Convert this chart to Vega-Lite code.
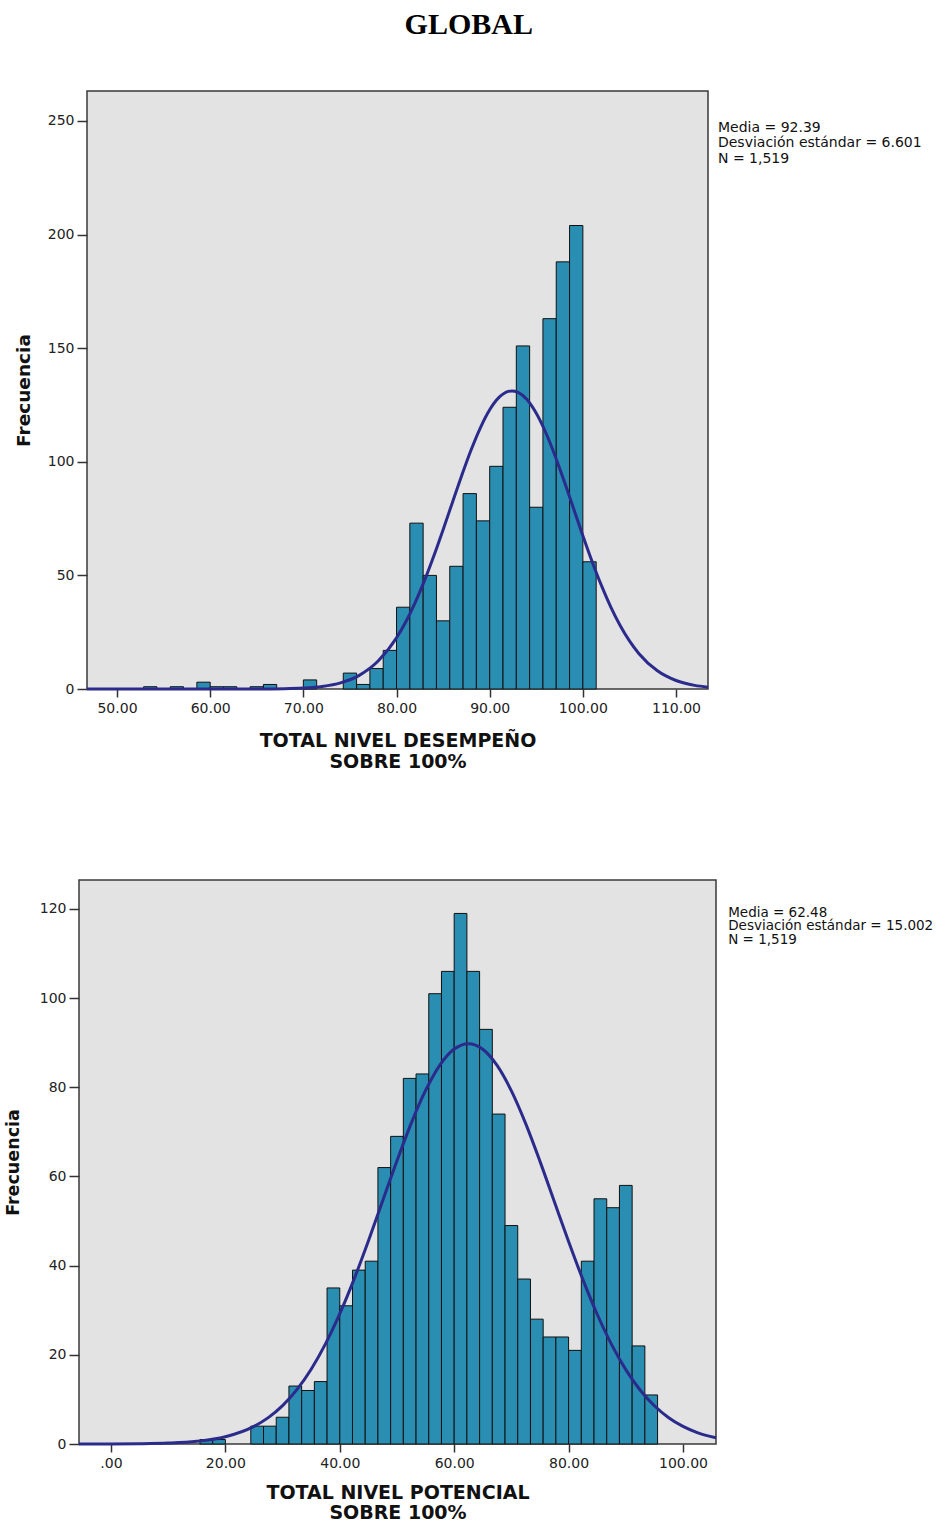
{
  "$schema": "https://vega.github.io/schema/vega-lite/v6.json",
  "background": "white",
  "padding": {"left": 3, "top": 10, "right": 0, "bottom": 0},
  "title": {
    "text": "GLOBAL",
    "font": "Liberation Serif",
    "fontSize": 30,
    "fontWeight": "bold",
    "color": "#000000",
    "anchor": "middle",
    "frame": "bounds",
    "offset": 50
  },
  "bounds": "flush",
  "center": true,
  "spacing": 191,
  "config": {
    "view": {"fill": "#e3e3e3", "stroke": "#3a3a3a", "strokeWidth": 1.5},
    "axis": {
      "grid": false,
      "domain": false,
      "ticks": true,
      "tickColor": "#333333",
      "tickWidth": 1.5,
      "labelFont": "DejaVu Sans",
      "labelFontSize": 14,
      "labelColor": "#222222",
      "titleFont": "DejaVu Sans",
      "titleFontWeight": "bold",
      "titleColor": "#111111"
    }
  },
  "datasets": {
    "desempeno": [
      {"desde": 52.857, "hasta": 54.286, "frecuencia": 1},
      {"desde": 55.714, "hasta": 57.143, "frecuencia": 1},
      {"desde": 58.571, "hasta": 60.0, "frecuencia": 3},
      {"desde": 60.0, "hasta": 61.429, "frecuencia": 1},
      {"desde": 61.429, "hasta": 62.857, "frecuencia": 1},
      {"desde": 64.286, "hasta": 65.714, "frecuencia": 1},
      {"desde": 65.714, "hasta": 67.143, "frecuencia": 2},
      {"desde": 70.0, "hasta": 71.429, "frecuencia": 4},
      {"desde": 74.286, "hasta": 75.714, "frecuencia": 7},
      {"desde": 75.714, "hasta": 77.143, "frecuencia": 2},
      {"desde": 77.143, "hasta": 78.571, "frecuencia": 9},
      {"desde": 78.571, "hasta": 80.0, "frecuencia": 17},
      {"desde": 80.0, "hasta": 81.429, "frecuencia": 36},
      {"desde": 81.429, "hasta": 82.857, "frecuencia": 73},
      {"desde": 82.857, "hasta": 84.286, "frecuencia": 50},
      {"desde": 84.286, "hasta": 85.714, "frecuencia": 30},
      {"desde": 85.714, "hasta": 87.143, "frecuencia": 54},
      {"desde": 87.143, "hasta": 88.571, "frecuencia": 86},
      {"desde": 88.571, "hasta": 90.0, "frecuencia": 74},
      {"desde": 90.0, "hasta": 91.429, "frecuencia": 98},
      {"desde": 91.429, "hasta": 92.857, "frecuencia": 124},
      {"desde": 92.857, "hasta": 94.286, "frecuencia": 151},
      {"desde": 94.286, "hasta": 95.714, "frecuencia": 80},
      {"desde": 95.714, "hasta": 97.143, "frecuencia": 163},
      {"desde": 97.143, "hasta": 98.571, "frecuencia": 188},
      {"desde": 98.571, "hasta": 100.0, "frecuencia": 204},
      {"desde": 100.0, "hasta": 101.429, "frecuencia": 56}
    ],
    "curva_desempeno": [
      {"valor": 46.78, "frecuencia": 0},
      {"valor": 55, "frecuencia": 0},
      {"valor": 60, "frecuencia": 0.001},
      {"valor": 65, "frecuencia": 0.024},
      {"valor": 68, "frecuencia": 0.143},
      {"valor": 70, "frecuencia": 0.42},
      {"valor": 72, "frecuencia": 1.11},
      {"valor": 74, "frecuencia": 2.71},
      {"valor": 76, "frecuencia": 6.01},
      {"valor": 78, "frecuencia": 12.19},
      {"valor": 80, "frecuencia": 22.53},
      {"valor": 81, "frecuencia": 29.61},
      {"valor": 82, "frecuencia": 38.01},
      {"valor": 83, "frecuencia": 47.7},
      {"valor": 84, "frecuencia": 58.5},
      {"valor": 85, "frecuencia": 70.11},
      {"valor": 86, "frecuencia": 82.13},
      {"valor": 87, "frecuencia": 94.01},
      {"valor": 88, "frecuencia": 105.2},
      {"valor": 89, "frecuencia": 114.98},
      {"valor": 90, "frecuencia": 122.9},
      {"valor": 91, "frecuencia": 128.33},
      {"valor": 92, "frecuencia": 131.0},
      {"valor": 92.39, "frecuencia": 131.2},
      {"valor": 93, "frecuencia": 130.64},
      {"valor": 94, "frecuencia": 127.4},
      {"valor": 95, "frecuencia": 121.34},
      {"valor": 96, "frecuencia": 113.0},
      {"valor": 97, "frecuencia": 102.81},
      {"valor": 98, "frecuencia": 91.42},
      {"valor": 99, "frecuencia": 79.47},
      {"valor": 100, "frecuencia": 67.5},
      {"valor": 101, "frecuencia": 56.04},
      {"valor": 102, "frecuencia": 45.47},
      {"valor": 103, "frecuencia": 36.05},
      {"valor": 104, "frecuencia": 27.95},
      {"valor": 105, "frecuencia": 21.16},
      {"valor": 106, "frecuencia": 15.66},
      {"valor": 108, "frecuencia": 8.01},
      {"valor": 110, "frecuencia": 3.74},
      {"valor": 112, "frecuencia": 1.59},
      {"valor": 113.43, "frecuencia": 0.82}
    ],
    "potencial": [
      {"desde": 15.556, "hasta": 17.778, "frecuencia": 1},
      {"desde": 17.778, "hasta": 20.0, "frecuencia": 1},
      {"desde": 24.444, "hasta": 26.667, "frecuencia": 4},
      {"desde": 26.667, "hasta": 28.889, "frecuencia": 4},
      {"desde": 28.889, "hasta": 31.111, "frecuencia": 6},
      {"desde": 31.111, "hasta": 33.333, "frecuencia": 13},
      {"desde": 33.333, "hasta": 35.556, "frecuencia": 12},
      {"desde": 35.556, "hasta": 37.778, "frecuencia": 14},
      {"desde": 37.778, "hasta": 40.0, "frecuencia": 35},
      {"desde": 40.0, "hasta": 42.222, "frecuencia": 31},
      {"desde": 42.222, "hasta": 44.444, "frecuencia": 39},
      {"desde": 44.444, "hasta": 46.667, "frecuencia": 41},
      {"desde": 46.667, "hasta": 48.889, "frecuencia": 62},
      {"desde": 48.889, "hasta": 51.111, "frecuencia": 69},
      {"desde": 51.111, "hasta": 53.333, "frecuencia": 82},
      {"desde": 53.333, "hasta": 55.556, "frecuencia": 83},
      {"desde": 55.556, "hasta": 57.778, "frecuencia": 101},
      {"desde": 57.778, "hasta": 60.0, "frecuencia": 106},
      {"desde": 60.0, "hasta": 62.222, "frecuencia": 119},
      {"desde": 62.222, "hasta": 64.444, "frecuencia": 106},
      {"desde": 64.444, "hasta": 66.667, "frecuencia": 93},
      {"desde": 66.667, "hasta": 68.889, "frecuencia": 74},
      {"desde": 68.889, "hasta": 71.111, "frecuencia": 49},
      {"desde": 71.111, "hasta": 73.333, "frecuencia": 37},
      {"desde": 73.333, "hasta": 75.556, "frecuencia": 28},
      {"desde": 75.556, "hasta": 77.778, "frecuencia": 24},
      {"desde": 77.778, "hasta": 80.0, "frecuencia": 24},
      {"desde": 80.0, "hasta": 82.222, "frecuencia": 21},
      {"desde": 82.222, "hasta": 84.444, "frecuencia": 41},
      {"desde": 84.444, "hasta": 86.667, "frecuencia": 55},
      {"desde": 86.667, "hasta": 88.889, "frecuencia": 53},
      {"desde": 88.889, "hasta": 91.111, "frecuencia": 58},
      {"desde": 91.111, "hasta": 93.333, "frecuencia": 22},
      {"desde": 93.333, "hasta": 95.556, "frecuencia": 11}
    ],
    "curva_potencial": [
      {"valor": -5.59, "frecuencia": 0.003},
      {"valor": 0, "frecuencia": 0.015},
      {"valor": 5, "frecuencia": 0.058},
      {"valor": 10, "frecuencia": 0.198},
      {"valor": 15, "frecuencia": 0.6},
      {"valor": 20, "frecuencia": 1.63},
      {"valor": 25, "frecuencia": 3.96},
      {"valor": 27.5, "frecuencia": 5.92},
      {"valor": 30, "frecuencia": 8.62},
      {"valor": 32.5, "frecuencia": 12.19},
      {"valor": 35, "frecuencia": 16.77},
      {"valor": 37.5, "frecuencia": 22.45},
      {"valor": 40, "frecuencia": 29.22},
      {"valor": 42.5, "frecuencia": 36.99},
      {"valor": 45, "frecuencia": 45.55},
      {"valor": 47.5, "frecuencia": 54.55},
      {"valor": 50, "frecuencia": 63.53},
      {"valor": 52.5, "frecuencia": 71.98},
      {"valor": 55, "frecuencia": 79.3},
      {"valor": 57.5, "frecuencia": 84.99},
      {"valor": 60, "frecuencia": 88.58},
      {"valor": 62.48, "frecuencia": 89.8},
      {"valor": 65, "frecuencia": 88.54},
      {"valor": 67.5, "frecuencia": 84.91},
      {"valor": 70, "frecuencia": 79.19},
      {"valor": 72.5, "frecuencia": 71.85},
      {"valor": 75, "frecuencia": 63.39},
      {"valor": 77.5, "frecuencia": 54.4},
      {"valor": 80, "frecuencia": 45.41},
      {"valor": 82.5, "frecuencia": 36.86},
      {"valor": 85, "frecuencia": 29.1},
      {"valor": 87.5, "frecuencia": 22.35},
      {"valor": 90, "frecuencia": 16.69},
      {"valor": 92.5, "frecuencia": 12.12},
      {"valor": 95, "frecuencia": 8.57},
      {"valor": 97.5, "frecuencia": 5.89},
      {"valor": 100, "frecuencia": 3.94},
      {"valor": 102.5, "frecuencia": 2.56},
      {"valor": 105.77, "frecuencia": 1.39}
    ],
    "resumen_desempeno": [
      {"texto": "Media = 92.39\nDesviación estándar = 6.601\nN = 1,519"}
    ],
    "resumen_potencial": [
      {"texto": "Media = 62.48\nDesviación estándar = 15.002\nN = 1,519"}
    ]
  },
  "vconcat": [
    {
      "width": 621,
      "height": 598,
      "layer": [
        {
          "data": {"name": "desempeno"},
          "mark": {"type": "bar", "fill": "#2a8db2", "stroke": "#111111", "strokeWidth": 1},
          "encoding": {
            "x": {
              "field": "desde",
              "type": "quantitative",
              "scale": {"domain": [46.78, 113.43], "nice": false, "zero": false},
              "axis": {
                "values": [50, 60, 70, 80, 90, 100, 110],
                "format": ".2f",
                "tickSize": 8,
                "labelPadding": 4,
                "title": ["TOTAL NIVEL DESEMPEÑO", "SOBRE 100%"],
                "titleFontSize": 19,
                "titleLineHeight": 21,
                "titlePadding": 16
              }
            },
            "x2": {"field": "hasta"},
            "y": {
              "field": "frecuencia",
              "type": "quantitative",
              "scale": {"domain": [0, 263.2], "nice": false},
              "axis": {
                "values": [0, 50, 100, 150, 200, 250],
                "format": "d",
                "tickSize": 10,
                "labelPadding": 3,
                "title": "Frecuencia",
                "titleFontSize": 18.5,
                "titlePadding": 14
              }
            },
            "y2": {"datum": 0}
          }
        },
        {
          "data": {"name": "curva_desempeno"},
          "mark": {"type": "line", "color": "#2b2b8c", "strokeWidth": 3, "interpolate": "monotone"},
          "encoding": {
            "x": {"field": "valor", "type": "quantitative"},
            "y": {"field": "frecuencia", "type": "quantitative"}
          }
        },
        {
          "data": {"name": "resumen_desempeno"},
          "mark": {"type": "text", "align": "left", "baseline": "top", "font": "DejaVu Sans", "fontSize": 14, "lineHeight": 15.5, "lineBreak": "\n", "color": "#111111"},
          "encoding": {
            "x": {"datum": 114.5},
            "y": {"datum": 250.1},
            "text": {"field": "texto"}
          }
        }
      ]
    },
    {
      "width": 637,
      "height": 564,
      "layer": [
        {
          "data": {"name": "potencial"},
          "mark": {"type": "bar", "fill": "#2a8db2", "stroke": "#111111", "strokeWidth": 1},
          "encoding": {
            "x": {
              "field": "desde",
              "type": "quantitative",
              "scale": {"domain": [-5.59, 105.77], "nice": false, "zero": false},
              "axis": {
                "values": [0, 20, 40, 60, 80, 100],
                "labelExpr": "datum.value === 0 ? '.00' : format(datum.value, '.2f')",
                "tickSize": 8,
                "labelPadding": 4,
                "title": ["TOTAL NIVEL POTENCIAL", "SOBRE 100%"],
                "titleFontSize": 19,
                "titleLineHeight": 20,
                "titlePadding": 13
              }
            },
            "x2": {"field": "hasta"},
            "y": {
              "field": "frecuencia",
              "type": "quantitative",
              "scale": {"domain": [0, 126.5], "nice": false},
              "axis": {
                "values": [0, 20, 40, 60, 80, 100, 120],
                "format": "d",
                "tickSize": 10,
                "labelPadding": 3,
                "title": "Frecuencia",
                "titleFontSize": 17.5,
                "titlePadding": 17
              }
            },
            "y2": {"datum": 0}
          }
        },
        {
          "data": {"name": "curva_potencial"},
          "mark": {"type": "line", "color": "#2b2b8c", "strokeWidth": 3, "interpolate": "monotone"},
          "encoding": {
            "x": {"field": "valor", "type": "quantitative"},
            "y": {"field": "frecuencia", "type": "quantitative"}
          }
        },
        {
          "data": {"name": "resumen_potencial"},
          "mark": {"type": "text", "align": "left", "baseline": "top", "font": "DejaVu Sans", "fontSize": 13.5, "lineHeight": 13.5, "lineBreak": "\n", "color": "#111111"},
          "encoding": {
            "x": {"datum": 107.9},
            "y": {"datum": 120.7},
            "text": {"field": "texto"}
          }
        }
      ]
    }
  ]
}
